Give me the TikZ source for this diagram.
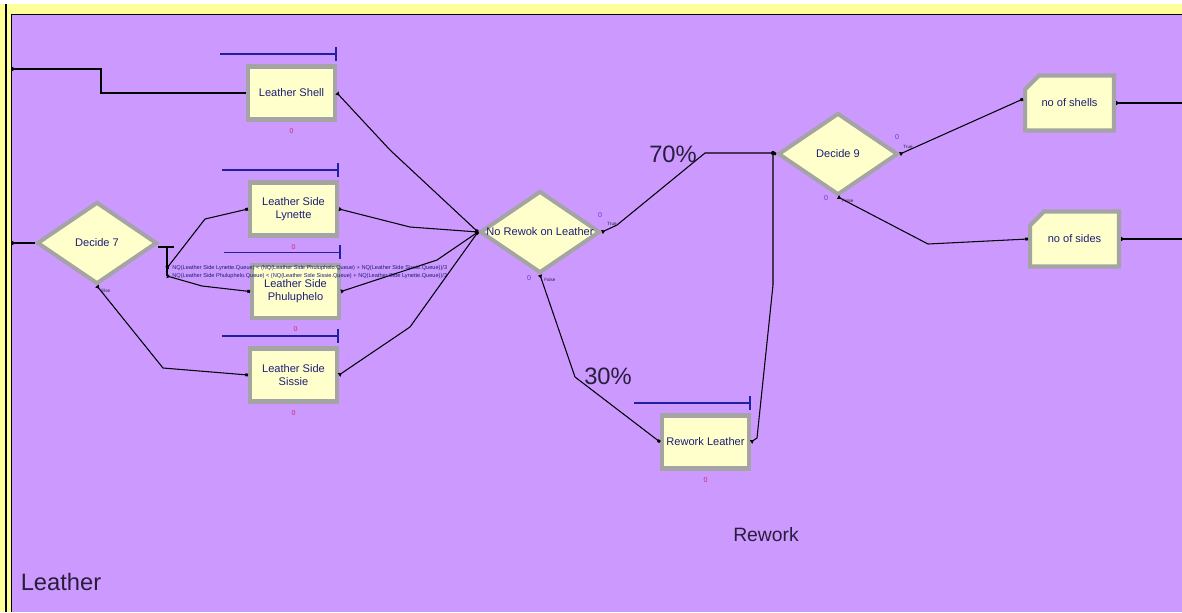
\documentclass[tikz,border=0pt]{standalone}
\usepackage{fontspec}
\setmainfont{Liberation Sans}
\usetikzlibrary{shapes.geometric,shapes.misc,arrows.meta}

\definecolor{arenabg}{HTML}{CC99FF}
\definecolor{bandyellow}{HTML}{FFFF99}
\definecolor{modfill}{HTML}{FFFFCC}
\definecolor{modedge}{HTML}{A4A4A4}
\definecolor{modtext}{HTML}{1E1E78}
\definecolor{qline}{HTML}{2020A0}
\definecolor{cntred}{HTML}{C0306A}
\definecolor{cntblue}{HTML}{5A3CD0}
\definecolor{bigtext}{HTML}{281E3C}

\tikzset{
  process/.style={rectangle, draw=modedge, line width=2.3pt, fill=modfill,
    minimum width=1.74cm, minimum height=1.06cm, inner sep=0pt,
    align=center, text=modtext, font=\fontsize{6.3}{7.4}\selectfont},
  record/.style={process, chamfered rectangle, chamfered rectangle corners=north west,
    chamfered rectangle xsep=0.2cm, chamfered rectangle ysep=0.2cm,
    minimum width=1.78cm, minimum height=1.1cm},
  decide/.style={diamond, draw=modedge, line width=2.3pt, fill=modfill,
    minimum width=2.4cm, minimum height=1.64cm, inner sep=0pt},
  dlabel/.style={text=modtext, font=\fontsize{6.3}{7.4}\selectfont, inner sep=0pt},
  conn/.style={line width=0.6pt,
    {Triangle[length=2pt,width=2.4pt,reversed]}-{Square[length=1.6pt,width=1.6pt]}},
  link/.style={line width=0.6pt},
  queue/.style={draw=qline, line width=0.9pt, -{Bar[width=0.28cm,line width=0.9pt]}},
  counter/.style={font=\fontsize{4}{4.5}\selectfont, text=cntred, inner sep=0pt},
  portcnt/.style={font=\fontsize{4}{4.5}\selectfont, text=cntblue, inner sep=0pt},
  tiny/.style={font=\fontsize{2.6}{3}\selectfont, text=bigtext, inner sep=0pt},
  cond/.style={font=\fontsize{3.2}{3.6}\selectfont, text=modtext, inner sep=0pt, anchor=west},
  pct/.style={font=\fontsize{13.5}{15}\selectfont, text=bigtext, inner sep=0pt},
}

\begin{document}
\begin{tikzpicture}[x=0.02cm, y=-0.02cm]
  \useasboundingbox (0,0) rectangle (1182,612);
  \fill[white] (0,0) rectangle (1182,612);
  \fill[bandyellow] (0,4) rectangle (1182,612);
  \fill[arenabg] (12,15) rectangle (1182,612);
  \draw[line width=1pt] (6,4) -- (6,612);
  \draw[line width=0.8pt] (11.5,612) -- (11.5,14.5) -- (1182,14.5);

  \coordinate (inShell) at (12,69);
  \coordinate (inD7) at (12,243);
  \coordinate (outShells) at (1182,103);
  \coordinate (outSides) at (1182,239);
  \coordinate (jn) at (773,153);
  \coordinate (c1) at (167,268);
  \coordinate (c2) at (167,276);

  \node[process] (shell)  at (291.5, 93) {Leather Shell};
  \node[process] (lyn)    at (293.5,209) {Leather Side\\Lynette};
  \node[process] (phu)    at (295.5,291.5) {Leather Side\\Phuluphelo};
  \node[process] (sis)    at (293.5,375) {Leather Side\\Sissie};
  \node[process] (rework) at (705.5,442) {Rework Leather};

  \node[decide, label={[dlabel,name=d7t]center:Decide 7}] (d7) at (97,243) {};
  \node[decide, label={[dlabel,name=nrwt]center:No Rewok on Leather}] (nrw) at (540,232) {};
  \node[decide, label={[dlabel,name=d9t]center:Decide 9}] (d9) at (838,154) {};

  \node[record] (shells) at (1069.5,103) {no of shells};
  \node[record] (sides)  at (1074.5,239) {no of sides};

  \foreach \m in {shell,lyn,phu,sis,rework} {
    \draw[queue] ([xshift=-0.52cm,yshift=0.21cm]\m.north west) -- ([yshift=0.21cm]\m.north east);
    \node[counter] (cnt\m) at ([yshift=-0.19cm]\m.south) {0};
  }

  % Decide 7 conditions
  \draw[link] (158,247) -- (174,247);
  \draw[link] (167,247) -- (c2);
  \node[cond] (cond1) at (172,268) {NQ(Leather Side Lynette.Queue) < (NQ(Leather Side Phuluphelo.Queue) + NQ(Leather Side Sissie.Queue))/3};
  \node[cond] (cond2) at (172,276) {NQ(Leather Side Phuluphelo.Queue) < (NQ(Leather Side Sissie.Queue) + NQ(Leather Side Lynette.Queue))/3};
  \node[tiny, anchor=west] (d7e) at (101,291) {Else};

  \draw[conn] (inShell) -- (101,69) -- (101,93) -- (shell.west);
  \draw[conn] (inD7) -- (d7.west);
  \draw[conn] (c1) -- (205,219) -- (lyn.west);
  \draw[conn] (c2) -- (202,286) -- (phu.west);
  \draw[conn] (d7.south) -- (163,368) -- (sis.west);

  \draw[conn] (shell.east) -- (390,150) -- (nrw.west);
  \draw[conn] (lyn.east) -- (410,227) -- (nrw.west);
  \draw[conn] (phu.east) -- (437,260) -- (nrw.west);
  \draw[conn] (sis.east) -- (410,327) -- (nrw.west);

  \draw[conn] (nrw.east) -- (617,225) -- (705,153) -- (jn) -- (d9.west);
  \draw[conn] (nrw.south) -- (575,377) -- (rework.west);
  \draw[link, {Triangle[length=2pt,width=2.4pt,reversed]}-] (rework.east) -- (757,438) -- (773,285) -- (jn);
  \fill (jn) circle (1.2pt);

  \node[portcnt] (nrwc1) at (600,215) {0};
  \node[tiny, anchor=west] (nrwT) at (607,224) {True};
  \node[portcnt] (nrwc2) at (529,278) {0};
  \node[tiny, anchor=west] (nrwF) at (544,280) {False};

  \draw[conn] (d9.east) -- ([yshift=0.08cm]shells.west);
  \draw[conn] (d9.south) -- (928,244) -- (sides.west);
  \node[portcnt] (d9c1) at (897,137) {0};
  \node[tiny, anchor=west] (d9T) at (903,147) {True};
  \node[portcnt] (d9c2) at (826,198) {0};
  \node[tiny, anchor=west] (d9F) at (842,201) {False};

  \draw[conn] (shells.east) -- (outShells);
  \draw[conn] (sides.east) -- (outSides);

  \node[pct] (p70) at (673,154) {70\%};
  \node[pct] (p30) at (608,376) {30\%};
  \node[font=\fontsize{11}{13}\selectfont, text=bigtext] (rwlab) at (766,535) {Rework};
  \node[font=\fontsize{13.5}{15}\selectfont, text=bigtext] (lelab) at (61,582) {Leather};
\end{tikzpicture}
\end{document}
